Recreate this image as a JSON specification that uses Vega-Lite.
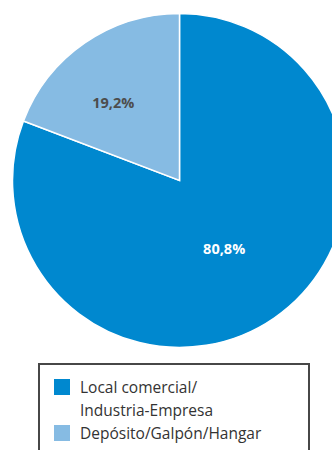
{
  "$schema": "https://vega.github.io/schema/vega-lite/v6.json",
  "width": 359,
  "height": 361,
  "autosize": "none",
  "padding": {"left": 0, "top": 0, "right": 0, "bottom": 89},
  "background": "white",
  "data": {
    "values": [
      {"categoria": "Local comercial/Industria-Empresa", "valor": 80.8, "etiqueta": "80,8%", "orden": 1},
      {"categoria": "Depósito/Galpón/Hangar", "valor": 19.2, "etiqueta": "19,2%", "orden": 2}
    ]
  },
  "encoding": {
    "theta": {"field": "valor", "type": "quantitative", "stack": true},
    "order": {"field": "orden", "type": "quantitative"}
  },
  "layer": [
    {
      "mark": {"type": "arc", "radius": 167, "stroke": "white", "strokeWidth": 1.5},
      "encoding": {
        "color": {
          "field": "categoria",
          "type": "nominal",
          "scale": {
            "domain": ["Local comercial/Industria-Empresa", "Depósito/Galpón/Hangar"],
            "range": ["#0088cf", "#86bbe3"]
          },
          "legend": {
            "title": " ",
            "titleOrient": "right",
            "titlePadding": 33,
            "orient": "none",
            "legendX": 39,
            "legendY": 364,
            "symbolType": "square",
            "symbolSize": 256,
            "symbolStrokeWidth": 0,
            "symbolOpacity": 1,
            "labelFont": "Open Sans",
            "labelFontSize": 15.5,
            "labelColor": "#333333",
            "labelOffset": 10,
            "labelBaseline": "alphabetic",
            "labelLimit": 400,
            "padding": 15,
            "rowPadding": 5,
            "strokeColor": "#474747",
            "labelExpr": "datum.value == 'Local comercial/Industria-Empresa' ? ['Local comercial/', 'Industria-Empresa'] : datum.label"
          }
        }
      }
    },
    {
      "mark": {
        "type": "text",
        "fontWeight": "bold",
        "fontSize": 14.5,
        "font": "Open Sans",
        "radius": {"expr": "datum.orden == 2 ? 101 : 84"},
        "dx": {"expr": "datum.orden == 2 ? -9 : -3"},
        "dy": {"expr": "datum.orden == 2 ? 7 : 0"}
      },
      "encoding": {
        "text": {"field": "etiqueta"},
        "color": {"condition": {"test": "datum.orden == 2", "value": "#4d4d4d"}, "value": "white"}
      }
    }
  ],
  "config": {
    "view": {"stroke": null},
    "legend": {"strokeWidth": 2},
    "style": {"guide-label": {"lineHeight": 23, "dy": 6}}
  }
}
